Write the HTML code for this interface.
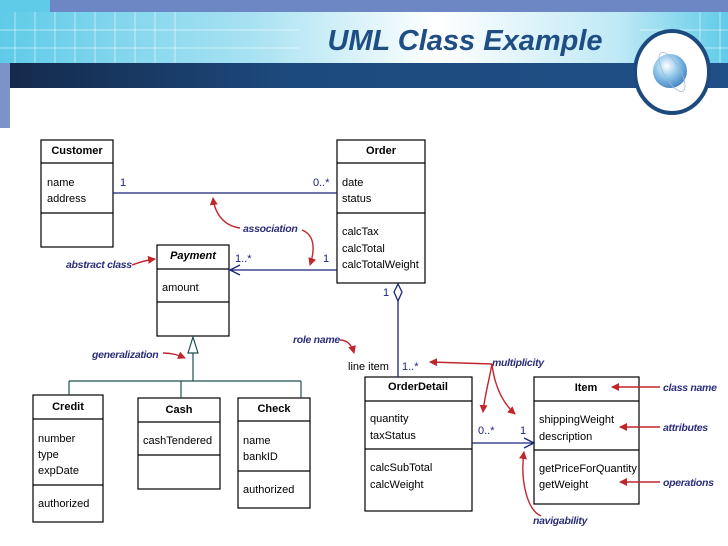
<!DOCTYPE html>
<html><head><meta charset="utf-8"><style>
html,body{margin:0;padding:0;background:#fff;}
body{width:728px;height:546px;overflow:hidden;position:relative;font-family:"Liberation Sans",sans-serif;}
</style></head><body>
<svg width="728" height="546" viewBox="0 0 728 546" xmlns="http://www.w3.org/2000/svg" style="position:absolute;left:0;top:0">
<defs>
<linearGradient id="hg" x1="0" x2="1" y1="0" y2="0">
<stop offset="0" stop-color="#5fcbe8"/><stop offset="0.35" stop-color="#a9e2f2"/><stop offset="0.6" stop-color="#ffffff"/><stop offset="0.85" stop-color="#bfe9f6"/><stop offset="1" stop-color="#5fcbe8"/>
</linearGradient>
<linearGradient id="db" x1="0" x2="1"><stop offset="0" stop-color="#14294a"/><stop offset="0.4" stop-color="#1d4a7e"/><stop offset="1" stop-color="#1f4f86"/></linearGradient>
<radialGradient id="gl" cx="0.4" cy="0.35" r="0.7"><stop offset="0" stop-color="#ffffff"/><stop offset="0.5" stop-color="#8cc4ea"/><stop offset="1" stop-color="#3f7fbf"/></radialGradient>
<marker id="ra" markerWidth="8" markerHeight="8" refX="7" refY="4" orient="auto" markerUnits="userSpaceOnUse"><path d="M0,0 L8,4 L0,8 Z" fill="#c0272d"/></marker>
</defs>
<rect x="0" y="0" width="728" height="63" fill="url(#hg)"/>
<rect x="0" y="0" width="728" height="12" fill="#6d86c4"/>
<rect x="0" y="0" width="50" height="12" fill="#5fcbe8"/>
<g stroke="#ffffff" stroke-opacity="0.5" stroke-width="1">
<line x1="0" y1="30" x2="300" y2="30"/><line x1="0" y1="48" x2="300" y2="48"/>
<line x1="15" y1="12" x2="15" y2="63"/><line x1="35" y1="12" x2="35" y2="63"/><line x1="55" y1="12" x2="55" y2="63"/><line x1="75" y1="12" x2="75" y2="63"/><line x1="95" y1="12" x2="95" y2="63"/><line x1="115" y1="12" x2="115" y2="63"/><line x1="135" y1="12" x2="135" y2="63"/><line x1="155" y1="12" x2="155" y2="63"/><line x1="175" y1="12" x2="175" y2="63"/>
<line x1="640" y1="30" x2="728" y2="30"/><line x1="640" y1="48" x2="728" y2="48"/><line x1="700" y1="12" x2="700" y2="63"/><line x1="720" y1="12" x2="720" y2="63"/>
</g>
<rect x="0" y="63" width="728" height="25" fill="url(#db)"/>
<rect x="0" y="63" width="10" height="65" fill="#7b93c8"/>
<text x="465" y="50" text-anchor="middle" font-family="Liberation Sans,sans-serif" font-weight="bold" font-style="italic" font-size="29" fill="#1f4e85">UML Class Example</text>
<ellipse cx="672" cy="72" rx="37" ry="41" fill="#fff" stroke="#1d4a7e" stroke-width="4"/>
<circle cx="670" cy="71" r="17" fill="url(#gl)"/>
<ellipse cx="672" cy="72" rx="22" ry="8" fill="none" stroke="#9bb9d6" stroke-width="0.8" transform="rotate(60 672 72)"/>

<g fill="#fff" stroke="#000" stroke-width="1.2">
<rect x="41" y="140" width="72" height="107"/><line x1="41" y1="163" x2="113" y2="163"/><line x1="41" y1="213" x2="113" y2="213"/>
<rect x="337" y="140" width="88" height="143"/><line x1="337" y1="163" x2="425" y2="163"/><line x1="337" y1="213" x2="425" y2="213"/>
<rect x="157" y="245" width="72" height="91"/><line x1="157" y1="269" x2="229" y2="269"/><line x1="157" y1="302" x2="229" y2="302"/>
<rect x="33" y="395" width="70" height="127"/><line x1="33" y1="419" x2="103" y2="419"/><line x1="33" y1="485" x2="103" y2="485"/>
<rect x="138" y="398" width="82" height="91"/><line x1="138" y1="422" x2="220" y2="422"/><line x1="138" y1="455" x2="220" y2="455"/>
<rect x="238" y="398" width="72" height="110"/><line x1="238" y1="421" x2="310" y2="421"/><line x1="238" y1="471" x2="310" y2="471"/>
<rect x="365" y="377" width="107" height="134"/><line x1="365" y1="401" x2="472" y2="401"/><line x1="365" y1="449" x2="472" y2="449"/>
<rect x="534" y="377" width="105" height="127"/><line x1="534" y1="401" x2="639" y2="401"/><line x1="534" y1="450" x2="639" y2="450"/>
</g>
<g font-family="Liberation Sans,sans-serif" font-size="11" fill="#000">
<text x="77" y="154" text-anchor="middle" font-weight="bold">Customer</text>
<text x="47" y="186">name</text><text x="47" y="202">address</text>
<text x="381" y="154" text-anchor="middle" font-weight="bold">Order</text>
<text x="342" y="186">date</text><text x="342" y="202">status</text>
<text x="342" y="235">calcTax</text><text x="342" y="252">calcTotal</text><text x="342" y="268">calcTotalWeight</text>
<text x="193" y="259" text-anchor="middle" font-weight="bold" font-style="italic">Payment</text>
<text x="162" y="291">amount</text>
<text x="68" y="410" text-anchor="middle" font-weight="bold">Credit</text>
<text x="38" y="442">number</text><text x="38" y="458">type</text><text x="38" y="474">expDate</text><text x="38" y="507">authorized</text>
<text x="179" y="413" text-anchor="middle" font-weight="bold">Cash</text>
<text x="143" y="444">cashTendered</text>
<text x="274" y="412" text-anchor="middle" font-weight="bold">Check</text>
<text x="243" y="444">name</text><text x="243" y="460">bankID</text><text x="243" y="493">authorized</text>
<text x="418" y="390" text-anchor="middle" font-weight="bold">OrderDetail</text>
<text x="370" y="422">quantity</text><text x="370" y="439">taxStatus</text>
<text x="370" y="471">calcSubTotal</text><text x="370" y="488">calcWeight</text>
<text x="586" y="391" text-anchor="middle" font-weight="bold">Item</text>
<text x="539" y="423">shippingWeight</text><text x="539" y="440">description</text>
<text x="539" y="472">getPriceForQuantity</text><text x="539" y="488">getWeight</text>
<text x="348" y="370">line item</text>
</g>
<g stroke="#1a237e" stroke-width="1.3" fill="none">
<line x1="113" y1="193" x2="337" y2="193"/>
<line x1="229" y1="270" x2="337" y2="270"/><polyline points="240,265 230,270 240,275"/>
<path d="M398,284 L402,292 L398,301 L394,292 Z" fill="#fff"/>
<line x1="398" y1="301" x2="398" y2="377"/>
<line x1="472" y1="443" x2="534" y2="443"/><polyline points="524,438 534,443 524,448"/>
</g>
<g stroke="#1f4f4f" stroke-width="1.2" fill="none">
<path d="M193,337 L198,353 L188,353 Z" fill="#fff"/>
<line x1="193" y1="353" x2="193" y2="381"/>
<line x1="69" y1="381" x2="301" y2="381"/>
<line x1="69" y1="381" x2="69" y2="395"/><line x1="181" y1="381" x2="181" y2="398"/><line x1="301" y1="381" x2="301" y2="398"/>
</g>
<g font-family="Liberation Sans,sans-serif" font-size="11" fill="#1a237e">
<text x="120" y="186">1</text><text x="313" y="186">0..*</text>
<text x="235" y="262">1..*</text><text x="323" y="262">1</text>
<text x="383" y="296">1</text>
<text x="402" y="370">1..*</text>
<text x="478" y="434">0..*</text><text x="520" y="434">1</text>
</g>
<g font-family="Liberation Sans,sans-serif" font-size="10.5" font-style="italic" font-weight="bold" fill="#2b2f7a" letter-spacing="-0.3">
<text x="243" y="232">association</text>
<text x="66" y="268">abstract class</text>
<text x="92" y="358">generalization</text>
<text x="293" y="343">role name</text>
<text x="492" y="366">multiplicity</text>
<text x="663" y="391">class name</text>
<text x="663" y="431">attributes</text>
<text x="663" y="486">operations</text>
<text x="533" y="524">navigability</text>
</g>
<g stroke="#c0272d" stroke-width="1.4" fill="none" marker-end="url(#ra)">
<path d="M240,228 C225,226 215,215 213,198"/>
<path d="M302,230 C315,235 315,250 310,265"/>
<path d="M132,265 C140,262 147,260 155,259"/>
<path d="M163,353 C172,353 178,355 185,358"/>
<path d="M340,340 C348,340 352,346 354,353"/>
<path d="M492,364 L430,362"/>
<path d="M492,364 C488,385 484,400 483,412"/>
<path d="M492,364 C495,390 505,405 515,414"/>
<path d="M541,516 C527,510 520,480 524,452"/>
<path d="M660,387 L612,387"/>
<path d="M660,427 L620,427"/>
<path d="M660,482 L620,482"/>
</g>
</svg>
</body></html>
